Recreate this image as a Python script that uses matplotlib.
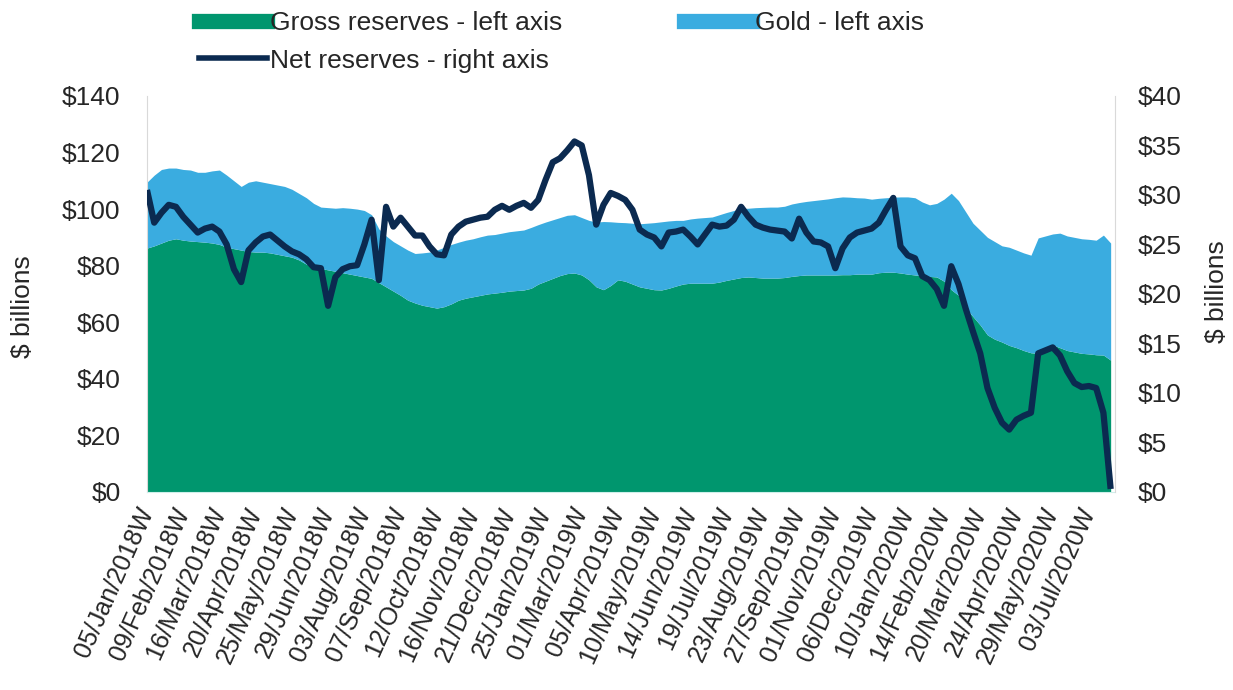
import numpy as np
import matplotlib.pyplot as plt
from matplotlib.lines import Line2D
from matplotlib.ticker import FuncFormatter

# weekly values, 05/Jan/2018 .. 24/Jul/2020, $ billions
gross = [86.2, 87.0, 88.0, 89.0, 89.5, 89.0, 88.7, 88.5, 88.3, 88.0,
         87.5, 86.5, 86.0, 85.5, 85.0, 84.8, 84.8, 84.5, 84.0, 83.5,
         83.0, 82.0, 80.5, 79.5, 79.0, 78.5, 78.0, 77.5, 77.0, 76.5,
         76.0, 75.5, 74.0, 72.5, 71.0, 69.5, 67.8, 66.8, 66.0, 65.5,
         65.0, 65.5, 66.5, 67.8, 68.5, 69.0, 69.5, 70.0, 70.3, 70.6,
         71.0, 71.2, 71.4, 72.0, 73.5, 74.5, 75.5, 76.5, 77.2, 77.4,
         76.7, 75.0, 72.5, 71.5, 73.0, 75.0, 74.5, 73.5, 72.5, 72.0,
         71.5, 71.4, 72.0, 72.8, 73.5, 73.8, 73.8, 73.8, 73.8, 74.2,
         74.8, 75.3, 75.8, 76.0, 75.8, 75.6, 75.6, 75.6, 75.8, 76.2,
         76.5, 76.7, 76.7, 76.7, 76.7, 76.7, 76.8, 76.8, 77.0, 77.0,
         77.0, 77.5, 77.7, 77.7, 77.4, 77.0, 76.7, 76.5, 76.2, 76.0,
         74.5, 71.5, 69.5, 65.0, 62.0, 59.0, 55.5, 54.0, 53.0, 51.8,
         51.0, 50.0, 49.2, 49.0, 50.5, 52.0, 51.0, 50.0, 49.5, 49.0,
         48.8, 48.5, 48.4, 46.6]

gold = [23.3, 25.0, 26.0, 25.5, 25.0, 25.0, 25.1, 24.5, 24.7, 25.5,
        26.3, 25.5, 24.0, 22.5, 24.5, 25.2, 24.7, 24.5, 24.5, 24.5,
        24.0, 23.5, 23.5, 22.5, 21.7, 22.0, 22.3, 23.0, 23.3, 23.5,
        23.5, 22.5, 19.0, 18.0, 17.5, 17.5, 17.7, 17.5, 18.5, 19.3,
        20.5, 21.0, 21.0, 20.5, 20.5, 20.5, 20.7, 20.8, 20.7, 20.9,
        21.0, 21.1, 21.2, 21.5, 21.0, 20.9, 20.7, 20.5, 20.6, 20.6,
        20.3, 21.0, 22.9, 24.1, 22.5, 20.3, 20.7, 21.5, 22.3, 23.0,
        23.7, 24.1, 23.8, 23.2, 22.5, 22.7, 23.0, 23.2, 23.4, 23.8,
        24.0, 24.2, 24.4, 24.3, 24.7, 25.0, 25.1, 25.1, 25.2, 25.6,
        25.8, 26.0, 26.3, 26.6, 26.9, 27.3, 27.5, 27.4, 27.0, 26.9,
        26.5, 26.3, 26.3, 26.5, 26.9, 27.3, 27.3, 26.0, 25.3, 26.0,
        29.0, 34.1, 33.5, 34.0, 33.0, 33.5, 34.5, 34.5, 34.0, 34.7,
        34.5, 34.5, 34.5, 40.8, 40.0, 39.2, 40.5, 40.5, 40.5, 40.5,
        40.5, 40.5, 42.4, 41.4]

net = [30.5, 27.2, 28.2, 29.0, 28.8, 27.8, 27.0, 26.2, 26.6, 26.8,
       26.3, 25.0, 22.5, 21.2, 24.4, 25.2, 25.8, 26.0, 25.4, 24.8,
       24.3, 24.0, 23.5, 22.7, 22.6, 18.8, 21.7, 22.5, 22.8, 22.9,
       25.0, 27.5, 21.4, 28.8, 26.8, 27.7, 26.8, 25.9, 25.9, 24.8,
       24.0, 23.9, 26.0, 26.8, 27.3, 27.5, 27.7, 27.8, 28.5, 28.9,
       28.5, 28.9, 29.2, 28.7, 29.5, 31.5, 33.3, 33.7, 34.5, 35.4,
       35.0, 32.0, 27.0, 29.0, 30.2, 29.9, 29.5, 28.5, 26.5, 26.0,
       25.7, 24.8, 26.2, 26.3, 26.5, 25.8, 25.0, 26.0, 27.0, 26.8,
       26.9, 27.5, 28.8, 27.8, 27.0, 26.7, 26.5, 26.4, 26.3, 25.6,
       27.6, 26.2, 25.3, 25.2, 24.8, 22.6, 24.6, 25.7, 26.2, 26.4,
       26.6, 27.2, 28.5, 29.7, 24.8, 23.9, 23.6, 21.8, 21.4, 20.5,
       18.8, 22.8, 21.0, 18.5, 16.2, 14.0, 10.5, 8.5, 7.0, 6.3,
       7.3, 7.7, 8.0, 14.0, 14.3, 14.6, 13.8, 12.2, 11.0, 10.6,
       10.7, 10.5, 8.0, 0.3]

tick_labels = ['05/Jan/2018W', '09/Feb/2018W', '16/Mar/2018W', '20/Apr/2018W',
               '25/May/2018W', '29/Jun/2018W', '03/Aug/2018W', '07/Sep/2018W',
               '12/Oct/2018W', '16/Nov/2018W', '21/Dec/2018W', '25/Jan/2019W',
               '01/Mar/2019W', '05/Apr/2019W', '10/May/2019W', '14/Jun/2019W',
               '19/Jul/2019W', '23/Aug/2019W', '27/Sep/2019W', '01/Nov/2019W',
               '06/Dec/2019W', '10/Jan/2020W', '14/Feb/2020W', '20/Mar/2020W',
               '24/Apr/2020W', '29/May/2020W', '03/Jul/2020W']

GREEN = '#00966E'
BLUE = '#3AACE0'
NAVY = '#0B2A50'
GREY = '#D9D9D9'

plt.rcParams['font.family'] = ['Liberation Sans', 'DejaVu Sans']
plt.rcParams['font.size'] = 19
plt.rcParams['text.color'] = '#262626'

x = np.arange(len(gross))
total = np.array(gross) + np.array(gold)

fig = plt.figure(figsize=(12.33, 6.9), dpi=100)
ax = fig.add_axes([0.1192, 0.287, 0.7851, 0.574])
ax.fill_between(x, 0, gross, color=GREEN, lw=0)
ax.fill_between(x, gross, total, color=BLUE, lw=0)
ax.set_xlim(0, 133.6)
ax.set_ylim(0, 140)
ax.set_yticks(range(0, 141, 20))
ax.yaxis.set_major_formatter(FuncFormatter(lambda v, p: f'${v:.0f}'))
ax.set_xticks(x[::5])
ax.set_xticklabels(tick_labels, rotation=66, ha='right', va='center',
                   rotation_mode='anchor', fontsize=18)
ax.tick_params(length=0, colors='#262626')
ax.tick_params(axis='y', pad=19)
ax.tick_params(axis='x', pad=12)
for s in ['top', 'right']:
    ax.spines[s].set_visible(False)
ax.spines['left'].set_color(GREY)
ax.spines['bottom'].set_color('#CFEFEA')

ax2 = ax.twinx()
ax2.plot(x, net, color=NAVY, lw=4.5, solid_joinstyle='round', solid_capstyle='butt')
ax2.set_ylim(0, 40)
ax2.set_yticks(range(0, 41, 5))
ax2.yaxis.set_major_formatter(FuncFormatter(lambda v, p: f'${v:.0f}'))
ax2.tick_params(length=0, pad=16, colors='#262626')
for s in ['top', 'left', 'bottom']:
    ax2.spines[s].set_visible(False)
ax2.spines['right'].set_color(GREY)

fig.text(23 / 1233, 1 - 307 / 690, '$ billions', rotation=90, ha='center', va='center')
fig.text(1217 / 1233, 1 - 292 / 690, '$ billions', rotation=90, ha='center', va='center')

handles = [Line2D([], [], color=GREEN, lw=11),
           Line2D([], [], color=NAVY, lw=4),
           Line2D([], [], color=BLUE, lw=11)]
labels = ['Gross reserves - left axis', 'Net reserves - right axis', 'Gold - left axis']
fig.legend(handles, labels, ncol=2, loc='upper left', bbox_to_anchor=(0.142, 1.018),
           frameon=False, handlelength=2.6, handletextpad=0.1, columnspacing=4.6,
           labelspacing=0.5, fontsize=19)

fig.savefig('out.png', dpi=100)
